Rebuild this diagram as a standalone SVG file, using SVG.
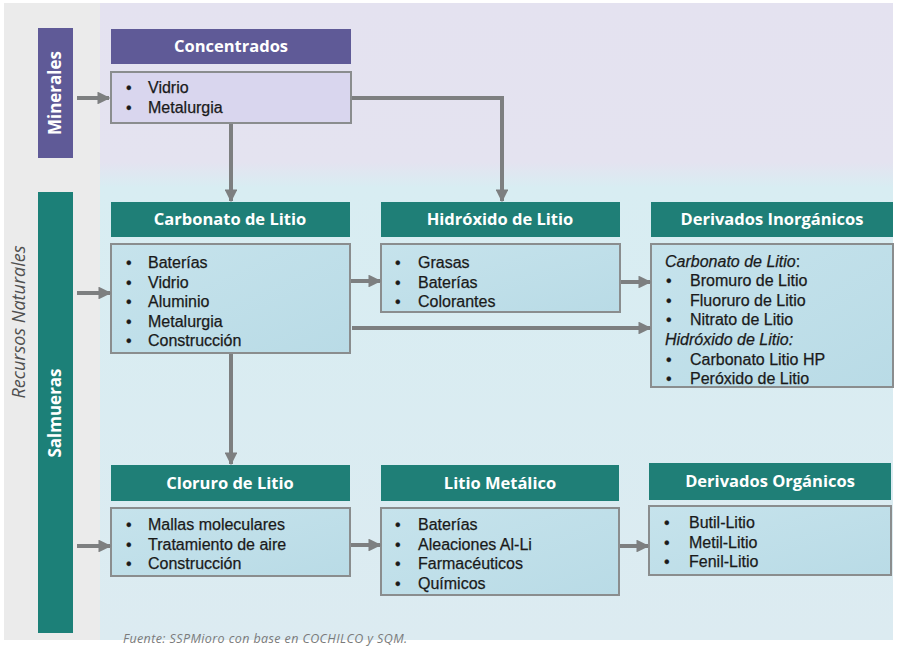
<svg xmlns="http://www.w3.org/2000/svg" width="901" height="647" viewBox="0 0 901 647">
<defs>
<linearGradient id="bgGrad" x1="0" y1="0" x2="0" y2="1">
<stop offset="0" stop-color="#e4e2f0"/>
<stop offset="0.25" stop-color="#e4e3f0"/>
<stop offset="0.29" stop-color="#d8edf2"/>
<stop offset="1" stop-color="#dcebf1"/>
</linearGradient>
<linearGradient id="blueBody" x1="0" y1="0" x2="1" y2="1">
<stop offset="0" stop-color="#c6e3ec"/>
<stop offset="1" stop-color="#b9dbe6"/>
</linearGradient>
<marker id="arr" viewBox="0 0 10 10" refX="9" refY="5" markerWidth="3.2" markerHeight="3.2" orient="auto" markerUnits="strokeWidth">
<path d="M0,0 L10,5 L0,10 z" fill="#7d7f80"/>
</marker>
<style>
.hdrT{fill:#1f7f77}
.hdrP{fill:#5f5a97}
.bodyB{fill:url(#blueBody);stroke:#8a8d8e;stroke-width:2}
.bodyP{fill:#d9d6ee;stroke:#8a8d8e;stroke-width:2}
.ht{font-family:"Open Sans","Liberation Sans",sans-serif;font-weight:bold;font-size:16.5px;fill:#ffffff;text-anchor:middle}
.bt{font-family:"Liberation Sans",Arial,sans-serif;font-size:16px;fill:#1a1a1a;stroke:#1a1a1a;stroke-width:0.25}
.it{font-style:italic}
.conn{fill:none;stroke:#7d7f80;stroke-width:4;marker-end:url(#arr)}
.side{font-family:"Open Sans","Liberation Sans",sans-serif;font-weight:bold;font-size:17px;fill:#ffffff;text-anchor:middle}
</style>
</defs>
<rect x="0" y="0" width="901" height="647" fill="#ffffff"/>
<rect x="4" y="3" width="96" height="637" fill="#ebebeb"/>
<rect x="100" y="3" width="793" height="637" fill="url(#bgGrad)"/>

<g id="recursos">
<text x="20" y="322" transform="rotate(-90 20 322)" font-family="'Open Sans','Liberation Sans',sans-serif" font-style="italic" font-size="18" fill="#505050" text-anchor="middle" dominant-baseline="middle">Recursos  Naturales</text>
</g>
<g id="minerales">
<rect x="38" y="28" width="35" height="130" class="hdrP"/>
<text x="56" y="93" transform="rotate(-90 56 93)" class="side" dominant-baseline="middle">Minerales</text>
</g>
<g id="salmueras">
<rect x="38" y="192" width="35" height="441" fill="#1c8078"/>
<text x="56" y="413" transform="rotate(-90 56 413)" class="side" dominant-baseline="middle">Salmueras</text>
</g>

<g id="concentrados">
<rect x="111" y="29" width="240" height="35" class="hdrP"/>
<text x="231" y="52" class="ht">Concentrados</text>
<rect x="111" y="72" width="240" height="51" class="bodyP"/>
<text class="bt"><tspan x="126" y="93">•</tspan><tspan x="148" y="93">Vidrio</tspan><tspan x="126" y="113">•</tspan><tspan x="148" y="113">Metalurgia</tspan></text>
</g>

<g id="carbonato">
<rect x="111" y="202" width="239" height="35" class="hdrT"/>
<text x="230" y="225" class="ht">Carbonato de Litio</text>
<rect x="111" y="244" width="239" height="109" class="bodyB"/>
<text class="bt"><tspan x="126" y="268">•</tspan><tspan x="148" y="268">Baterías</tspan><tspan x="126" y="288">•</tspan><tspan x="148" y="288">Vidrio</tspan><tspan x="126" y="307">•</tspan><tspan x="148" y="307">Aluminio</tspan><tspan x="126" y="327">•</tspan><tspan x="148" y="327">Metalurgia</tspan><tspan x="126" y="346">•</tspan><tspan x="148" y="346">Construcción</tspan></text>
</g>

<g id="hidroxido">
<rect x="381" y="202" width="239" height="35" class="hdrT"/>
<text x="500" y="225" class="ht">Hidróxido de Litio</text>
<rect x="381" y="244" width="239" height="68" class="bodyB"/>
<text class="bt"><tspan x="395" y="268">•</tspan><tspan x="418" y="268">Grasas</tspan><tspan x="395" y="288">•</tspan><tspan x="418" y="288">Baterías</tspan><tspan x="395" y="307">•</tspan><tspan x="418" y="307">Colorantes</tspan></text>
</g>

<g id="inorganicos">
<rect x="651" y="202" width="242" height="35" class="hdrT"/>
<text x="772" y="225" class="ht">Derivados Inorgánicos</text>
<rect x="651" y="244" width="242" height="143" class="bodyB"/>
<text class="bt"><tspan x="665" y="267" class="it">Carbonato de Litio</tspan><tspan>:</tspan><tspan x="666" y="286">•</tspan><tspan x="690" y="286">Bromuro de Litio</tspan><tspan x="666" y="306">•</tspan><tspan x="690" y="306">Fluoruro de Litio</tspan><tspan x="666" y="325">•</tspan><tspan x="690" y="325">Nitrato de Litio</tspan><tspan x="665" y="345" class="it">Hidróxido de Litio:</tspan><tspan x="666" y="365">•</tspan><tspan x="690" y="365">Carbonato Litio HP</tspan><tspan x="666" y="384">•</tspan><tspan x="690" y="384">Peróxido de Litio</tspan></text>
</g>

<g id="cloruro">
<rect x="111" y="465" width="239" height="36" class="hdrT"/>
<text x="230" y="489" class="ht">Cloruro de Litio</text>
<rect x="111" y="508" width="239" height="68" class="bodyB"/>
<text class="bt"><tspan x="126" y="530">•</tspan><tspan x="148" y="530">Mallas moleculares</tspan><tspan x="126" y="550">•</tspan><tspan x="148" y="550">Tratamiento de aire</tspan><tspan x="126" y="569">•</tspan><tspan x="148" y="569">Construcción</tspan></text>
</g>

<g id="metalico">
<rect x="381" y="465" width="238" height="36" class="hdrT"/>
<text x="500" y="489" class="ht">Litio Metálico</text>
<rect x="381" y="508" width="238" height="87" class="bodyB"/>
<text class="bt"><tspan x="395" y="530">•</tspan><tspan x="418" y="530">Baterías</tspan><tspan x="395" y="550">•</tspan><tspan x="418" y="550">Aleaciones Al-Li</tspan><tspan x="395" y="569">•</tspan><tspan x="418" y="569">Farmacéuticos</tspan><tspan x="395" y="589">•</tspan><tspan x="418" y="589">Químicos</tspan></text>
</g>

<g id="organicos">
<rect x="649" y="463" width="242" height="37" class="hdrT"/>
<text x="770" y="487" class="ht">Derivados Orgánicos</text>
<rect x="649" y="506" width="242" height="69" class="bodyB"/>
<text class="bt"><tspan x="664" y="528">•</tspan><tspan x="689" y="528">Butil-Litio</tspan><tspan x="664" y="548">•</tspan><tspan x="689" y="548">Metil-Litio</tspan><tspan x="664" y="567">•</tspan><tspan x="689" y="567">Fenil-Litio</tspan></text>
</g>

<g id="connectors">
<path class="conn" d="M77,98 H109"/>
<path class="conn" d="M231,124 V201"/>
<path class="conn" d="M352,98 H502 V201"/>
<path class="conn" d="M77,293 H110"/>
<path class="conn" d="M351,281 H380"/>
<path class="conn" d="M352,328 H650"/>
<path class="conn" d="M621,282 H650"/>
<path class="conn" d="M231,354 V464"/>
<path class="conn" d="M77,546 H110"/>
<path class="conn" d="M351,545 H380"/>
<path class="conn" d="M620,546 H648"/>
</g>

<text x="123" y="643" font-family="'Open Sans','Liberation Sans',sans-serif" font-style="italic" font-size="12.5" letter-spacing="0.4" fill="#7a7a7a">Fuente: SSPMioro con base en COCHILCO y SQM.</text>
</svg>
